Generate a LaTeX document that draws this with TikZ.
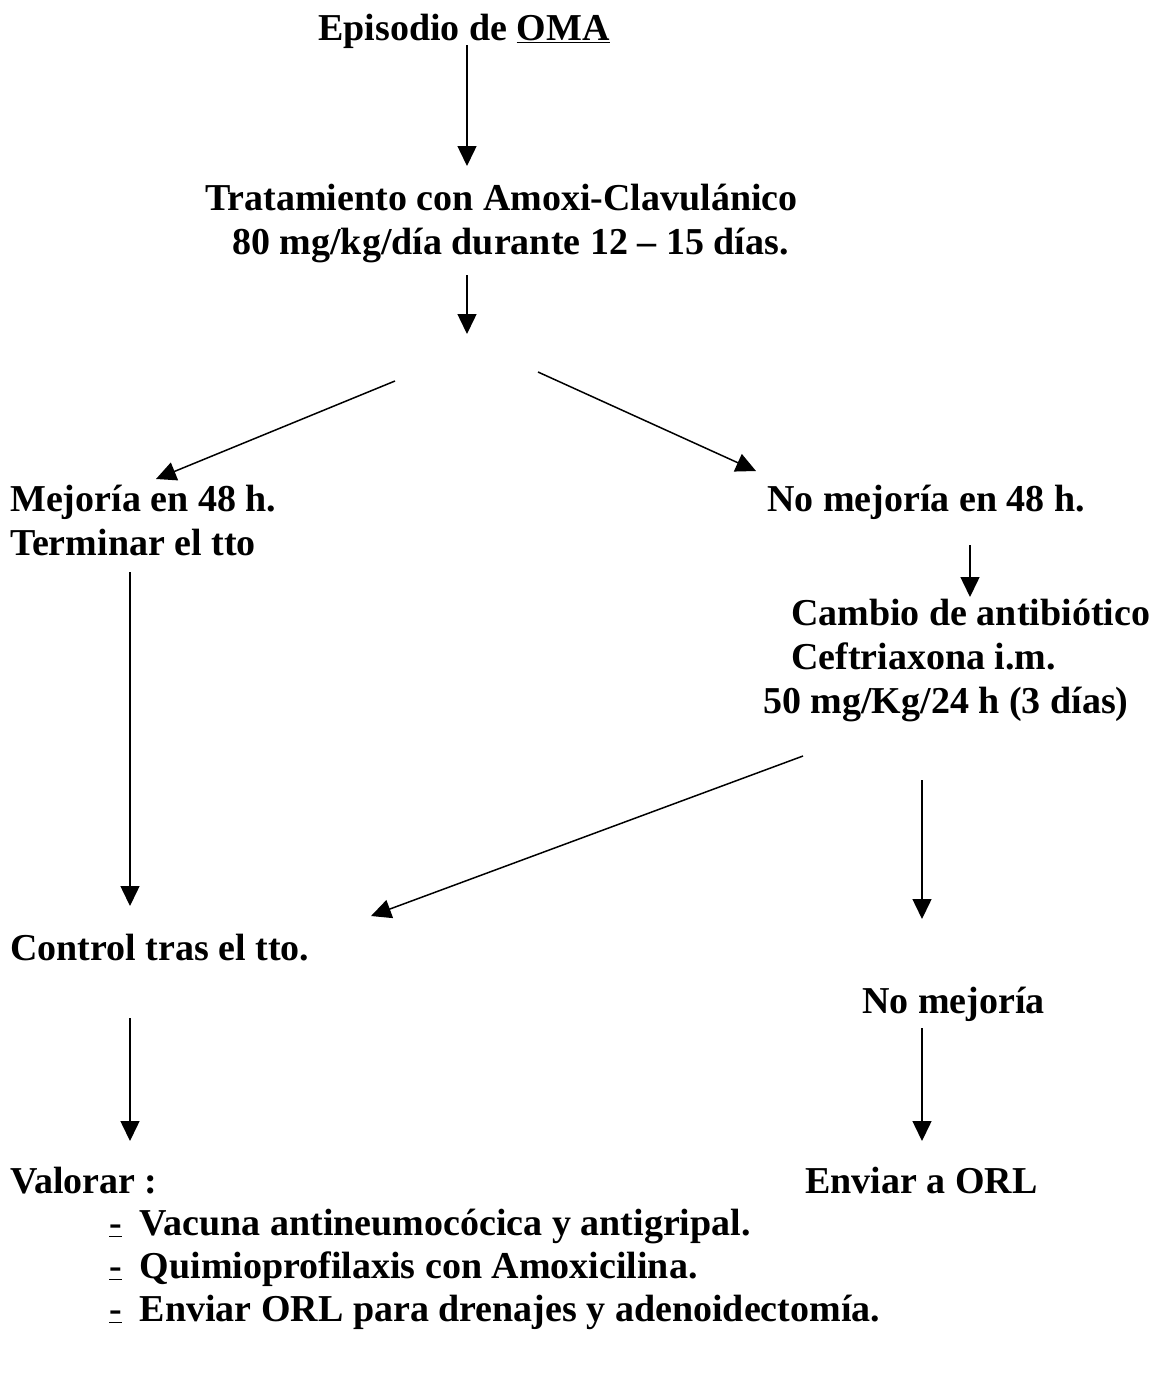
\documentclass[tikz,border=0pt]{standalone}
\usepackage{fontspec}
\setmainfont{Liberation Serif}
\usetikzlibrary{arrows.meta}
\begin{document}
\begin{tikzpicture}[x=1pt,y=-1pt,
  txt/.style={font=\fontsize{38}{44}\selectfont\bfseries, inner sep=0pt, anchor=base west},
  arr/.style={line width=1.5pt, -{Triangle[length=20pt,width=19pt]}}]
\useasboundingbox (0,0) rectangle (1151,1376);
% texts
\node[txt] (ep) at (318,40) {Episodio de \underline{OMA}};
\node[txt] (tr1) at (205,210) {Tratamiento con Amoxi-Clavulánico};
\node[txt] (tr2) at (232,254) {80 mg/kg/día durante 12 – 15 días.};
\node[txt] (me1) at (10,511) {Mejoría en 48 h.};
\node[txt] (me2) at (10,555) {Terminar el tto};
\node[txt] (nm) at (767,511) {No mejoría en 48 h.};
\node[txt] (ca1) at (791,625) {Cambio de antibiótico};
\node[txt] (ca2) at (791,669) {Ceftriaxona i.m.};
\node[txt] (ca3) at (763,713) {50 mg/Kg/24 h (3 días)};
\node[txt] (co) at (10,960) {Control tras el tto.};
\node[txt] (nm2) at (862,1013) {No mejoría};
\node[txt] (va) at (10,1193) {Valorar :};
\node[txt] (en) at (805,1193) {Enviar a ORL};
\node[txt] (l1) at (109,1235) {\underline{-}\hspace{18pt}Vacuna antineumocócica y antigripal.};
\node[txt] (l2) at (109,1278) {\underline{-}\hspace{18pt}Quimioprofilaxis con Amoxicilina.};
\node[txt] (l3) at (109,1321) {\underline{-}\hspace{18pt}Enviar ORL para drenajes y adenoidectomía.};
% connector endpoints
\coordinate (a1s) at (467,45);   \coordinate (a1e) at (467,166);
\coordinate (a2s) at (467,275);  \coordinate (a2e) at (467,334);
\coordinate (dls) at (395,381);  \coordinate (dle) at (156,479);
\coordinate (drs) at (538,372);  \coordinate (dre) at (756,471);
\coordinate (a3s) at (970,545);  \coordinate (a3e) at (970,597);
\coordinate (a4s) at (130,572);  \coordinate (a4e) at (130,906);
\coordinate (d2s) at (803,756);  \coordinate (d2e) at (371,916);
\coordinate (a5s) at (922,780);  \coordinate (a5e) at (922,919);
\coordinate (a6s) at (130,1018); \coordinate (a6e) at (130,1141);
\coordinate (a7s) at (922,1028); \coordinate (a7e) at (922,1141);
\draw[arr] (a1s) -- (a1e);
\draw[arr] (a2s) -- (a2e);
\draw[arr] (dls) -- (dle);
\draw[arr] (drs) -- (dre);
\draw[arr] (a3s) -- (a3e);
\draw[arr] (a4s) -- (a4e);
\draw[arr] (d2s) -- (d2e);
\draw[arr] (a5s) -- (a5e);
\draw[arr] (a6s) -- (a6e);
\draw[arr] (a7s) -- (a7e);
\end{tikzpicture}
\end{document}
